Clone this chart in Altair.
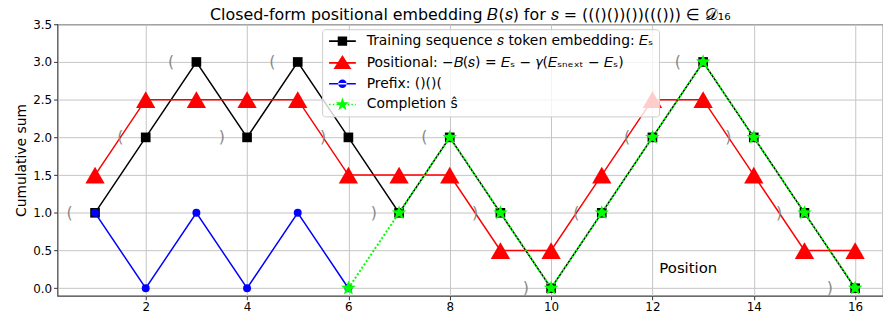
import math
import altair as alt
import pandas as pd

# ---------------- data ----------------
positions = list(range(1, 17))
sequence = list("((()())())((()))")
embedding = [1, 2, 3, 2, 3, 2, 1, 2, 1, 0, 1, 2, 3, 2, 1, 0]
positional = [1.5, 2.5, 2.5, 2.5, 2.5, 1.5, 1.5, 1.5, 0.5, 0.5, 1.5, 2.5, 2.5, 1.5, 0.5, 0.5]
prefix_positions = [1, 2, 3, 4, 5, 6]
prefix_values = [1, 0, 1, 0, 1, 0]
completion_positions = [6, 7, 8, 9, 10, 11, 12, 13, 14, 15, 16]
completion_values = [0, 1, 2, 1, 0, 1, 2, 3, 2, 1, 0]

series_names = [
    "Training sequence 𝑠 token embedding: 𝐸ₛ",
    "Positional: −𝐵(𝑠) = 𝐸ₛ − 𝛾(𝐸ₛₙₑₓₜ − 𝐸ₛ)",
    "Prefix: ()()(",
    "Completion ŝ",
]
series_colors = ["#000000", "#ff0000", "#0000ff", "#00ff00"]
x_ticks = [2, 4, 6, 8, 10, 12, 14, 16]
y_ticks = [0.0, 0.5, 1.0, 1.5, 2.0, 2.5, 3.0, 3.5]
title_text = "Closed-form positional embedding 𝐵(𝑠) for 𝑠 = ((()())())((()))  ∈ 𝒟₁₆"

FONT = "DejaVu Sans"

# ---------------- marker paths (legend symbols drawn as fills) ----------------
SH = 1.7  # horizontal shift of the legend glyph inside its nominal box


def star_path(R, r, cx=0.0, n=5):
    pts = []
    for k in range(2 * n):
        ang = -math.pi / 2 + k * math.pi / n
        rad = R if k % 2 == 0 else r
        pts.append((cx + rad * math.cos(ang), rad * math.sin(ang)))
    return "M" + "L".join(f"{x:.3f},{y:.3f}" for x, y in pts) + "Z"


def circle_path(r, cx=0.0):
    return (f"M{cx - r:.3f},0A{r},{r} 0 1,0 {cx + r:.3f},0"
            f"A{r},{r} 0 1,0 {cx - r:.3f},0Z")


L = 2.7
T = 0.16
solid_line = f"M{SH - L:.3f},{-T}H{SH + L:.3f}V{T}H{SH - L:.3f}Z"
dots = []
x0 = -L
while x0 < L:
    x1 = min(x0 + 0.3, L)
    dots.append(f"M{SH + x0:.3f},{-T}H{SH + x1:.3f}V{T}H{SH + x0:.3f}Z")
    x0 += 0.75
dotted_line = "".join(dots)

legend_shapes = [
    solid_line + f"M{SH - 0.95:.3f},-0.95H{SH + 0.95:.3f}V0.95H{SH - 0.95:.3f}Z",
    solid_line + f"M{SH:.3f},-1.6L{SH + 1.8:.3f},1.25L{SH - 1.8:.3f},1.25Z",
    solid_line + circle_path(0.85, SH),
    dotted_line + star_path(1.4, 0.57, SH),
]
chart_star = star_path(1.0, 0.42)

# ---------------- frames ----------------
main_df = pd.DataFrame({"pos": positions, "emb": embedding, "bpos": positional, "tok": sequence})
prefix_df = pd.DataFrame({"pos": prefix_positions, "val": prefix_values})
comp_df = pd.DataFrame({"pos": completion_positions, "val": completion_values})
legend_df = pd.DataFrame({"series": series_names, "pos": positions[:4], "val": embedding[:4]})

xs = alt.Scale(domain=[0.26, 16.55], nice=False, zero=False)
ys = alt.Scale(domain=[-0.1, 3.5], nice=False, zero=False)

x_axis = alt.Axis(
    values=x_ticks, title="Position", titleX=636, titleY=-28,
    titleAlign="center", titleBaseline="middle", titleFontSize=15,
    titleFontWeight="normal", titleColor="#000")
y_axis = alt.Axis(
    values=y_ticks, format=".1f", title="Cumulative sum",
    titleFontSize=14, titleFontWeight="normal", titleColor="#000")


def X(field):
    return alt.X(field, scale=xs, axis=x_axis)


def Y(field):
    return alt.Y(field, scale=ys, axis=y_axis)


base = alt.Chart(main_df)

black_line = base.mark_line(color="#000000", strokeWidth=1.5).encode(x=X("pos:Q"), y=Y("emb:Q"))
black_pts = base.mark_point(shape="square", filled=True, color="#000000", size=95, opacity=1).encode(x=X("pos:Q"), y=Y("emb:Q"))
red_line = base.mark_line(color="#ff0000", strokeWidth=1.5).encode(x=X("pos:Q"), y=Y("bpos:Q"))
red_pts = base.mark_point(shape="triangle-up", filled=True, color="#ff0000", size=380, opacity=1).encode(x=X("pos:Q"), y=Y("bpos:Q"))

pre = alt.Chart(prefix_df)
blue_line = pre.mark_line(color="#0000ff", strokeWidth=1.5).encode(x=X("pos:Q"), y=Y("val:Q"))
blue_pts = pre.mark_point(shape="circle", filled=True, color="#0000ff", size=64, opacity=1).encode(x=X("pos:Q"), y=Y("val:Q"))

comp = alt.Chart(comp_df)
green_line = comp.mark_line(color="#00ff00", strokeWidth=2, strokeDash=[2, 2]).encode(x=X("pos:Q"), y=Y("val:Q"))
green_pts = comp.mark_point(shape=chart_star, filled=True, color="#00ff00", size=240, opacity=1).encode(x=X("pos:Q"), y=Y("val:Q"))

parens = base.transform_calculate(lx="datum.pos - 0.5").mark_text(
    fontSize=16, color="#888888", baseline="middle", align="center"
).encode(x=X("lx:Q"), y=Y("emb:Q"), text="tok:N")

leg = alt.Legend(
    orient="none", legendX=267, legendY=5, title=None,
    labelFontSize=14, labelColor="#000", labelLimit=0,
    symbolSize=100, symbolStrokeWidth=0, symbolOpacity=1, labelOffset=26,
    fillColor="rgba(255,255,255,0.8)", strokeColor="#cccccc", cornerRadius=3,
    padding=5, rowPadding=7,
)
legend_layer = alt.Chart(legend_df).mark_point(opacity=0, filled=True, strokeWidth=0).encode(
    x=X("pos:Q"),
    y=Y("val:Q"),
    shape=alt.Shape("series:N", scale=alt.Scale(domain=series_names, range=legend_shapes), legend=leg),
    color=alt.Color("series:N", scale=alt.Scale(domain=series_names, range=series_colors), legend=leg),
)

chart = alt.layer(
    black_line, black_pts, red_line, red_pts, blue_line, blue_pts,
    green_line, green_pts, parens, legend_layer,
).properties(
    width=833, height=274,
    title=alt.TitleParams(title_text, fontSize=16, fontWeight="normal",
                          color="#000", anchor="middle", offset=-5, frame="group"),
    autosize=alt.AutoSizeParams(type="none"),
    padding={"left": 50, "top": 15, "right": 0, "bottom": 17},
).configure(
    font=FONT
).configure_view(
    stroke="#3c3c3c", strokeWidth=1.2
).configure_axis(
    grid=True, gridColor="#c4c4c4", gridWidth=1, domain=False,
    tickColor="#333", tickSize=4, tickWidth=1,
    labelFontSize=12, labelColor="#000", labelPadding=2,
)

chart.save("out.html", embed_options={"renderer": "svg", "actions": False})
